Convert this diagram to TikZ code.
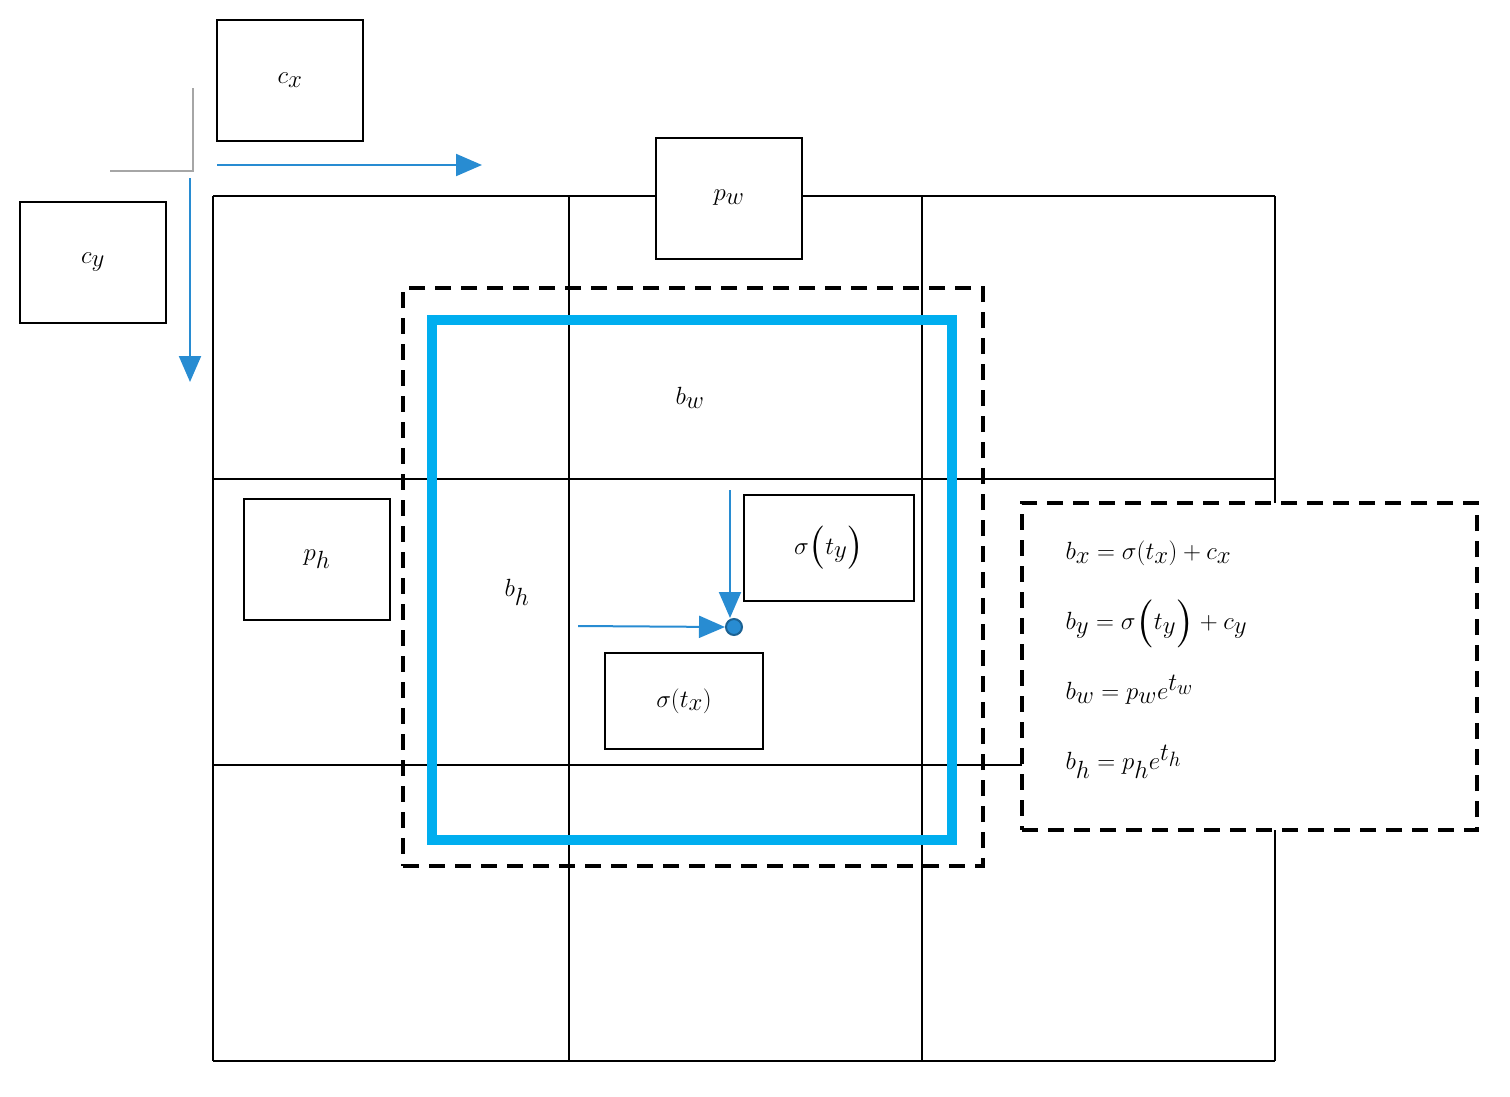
\documentclass[tikz,border=0pt]{standalone}
\usepackage{amsmath, amssymb}
\usepackage{tikz}
\usetikzlibrary{positioning, arrows.meta}
\usepackage{xcolor}
\definecolor{boxblue}{RGB}{0,174,239}
\definecolor{arrowblue}{RGB}{40,140,210}

\tikzset{
  lbl/.style={rectangle, draw=black, line width=2pt, fill=white, inner sep=0pt, font=\fontsize{42}{50}\selectfont},
  cell/.style={line width=2pt},
  bluearrow/.style={draw=arrowblue, line width=2pt, -{Triangle[length=26pt, width=22pt]}},
  dashbox/.style={line width=4pt, dash pattern=on 16pt off 10pt}
}

\begin{document}
\begin{tikzpicture}[x=1pt, y=-1pt]
\useasboundingbox (0,0) rectangle (1510,1096);
%

%%% GRID
\foreach \xpos in {213,569,922}
\draw [cell] (\xpos,196) -- (\xpos,1061);
\draw [cell] (1275,196) -- (1275,1061);
\draw [cell] (213,196) -- (1275,196);
\draw [cell] (213,479) -- (1275,479);
\draw [cell] (213,765) -- (1022,765);
\draw [cell] (213,1061) -- (1275,1061);

%%% BOXES
\node [dashbox, draw=black, minimum width=580pt, minimum height=578pt, inner sep=0pt] (prior) at (693,577) {};
\node [draw=boxblue, line width=10pt, minimum width=520pt, minimum height=520pt, inner sep=0pt] (pred) at (692,580) {};

%%% EQUATIONS
\node [dashbox, draw=black, fill=white, minimum width=455pt, minimum height=327pt, inner sep=0pt] (eqs) at (1249.5,666.5) {};
\node [anchor=west, align=left, font=\fontsize{40}{70}\selectfont] (eq-text) at (1062,660)
  {$b_x=\sigma(t_x)+c_x$\\ $b_y=\sigma\big(t_y\big)+c_y$\\ $b_w=p_we^{t_w}$\\ $b_h=p_he^{t_h}$};

%%% LABELS
\node [lbl, minimum width=146pt, minimum height=121pt] (cx) at (290,80) {$c_x$};
\node [lbl, minimum width=146pt, minimum height=121pt] (cy) at (93,262) {$c_y$};
\node [lbl, minimum width=146pt, minimum height=121pt] (pw) at (729,198) {$p_w$};
\node [lbl, minimum width=146pt, minimum height=121pt] (ph) at (317,559) {$p_h$};
\node [lbl, minimum width=170pt, minimum height=106pt, font=\fontsize{36}{44}\selectfont] (sty) at (829,548) {$\sigma\big(t_y\big)$};
\node [lbl, minimum width=158pt, minimum height=96pt, font=\fontsize{34}{40}\selectfont] (stx) at (684,701) {$\sigma(t_x)$};
\node [font=\fontsize{42}{50}\selectfont] (bw) at (690,398) {$b_w$};
\node [font=\fontsize{42}{50}\selectfont] (bh) at (517,592) {$b_h$};

%%% ORIGIN
\draw [gray!70, line width=1.5pt] (193,88) -- (193,171) -- (110,171);
\coordinate (ox-start) at (217,165);
\coordinate (ox-end) at (482,165);
\coordinate (oy-start) at (190,178);
\coordinate (oy-end) at (190,382);

%%% CENTER
\node [circle, draw=arrowblue!70!black, fill=arrowblue, line width=2pt, minimum size=16pt, inner sep=0pt] (center) at (734,627) {};
\coordinate (sx-start) at (578,626);
\coordinate (sy-start) at (730,490);

%%% connections, arrows
\draw [bluearrow] (ox-start) -- (ox-end);
\draw [bluearrow] (oy-start) -- (oy-end);
\draw [bluearrow] (sx-start) -- (center.west);
\draw [bluearrow] (sy-start) -- (center.north -| sy-start);

\end{tikzpicture}
\end{document}
